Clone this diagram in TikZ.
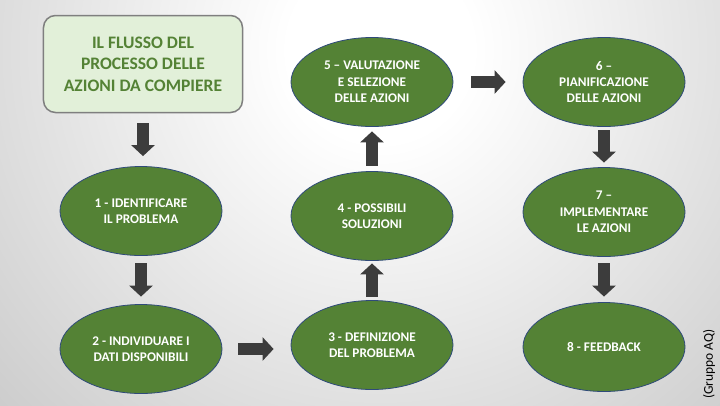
\documentclass[tikz,border=0pt]{standalone}
\usepackage{fontspec}
\setmainfont{Carlito}
\usetikzlibrary{shapes.geometric,arrows.meta}
\definecolor{ellgreen}{HTML}{548235}
\definecolor{ellborder}{HTML}{2F4A7A}
\definecolor{titlefill}{HTML}{E2F0D9}
\definecolor{titletext}{HTML}{548235}
\definecolor{titleborder}{HTML}{7F7F7F}
\definecolor{arrowgray}{HTML}{3C3C3C}
\definecolor{bgedge}{HTML}{9E9E9E}
\pgfdeclareradialshading{bgshade}{\pgfpoint{0bp}{0bp}}{color(0bp)=(white);color(5bp)=(white);color(50bp)=(bgedge)}
\tikzset{
  ell/.style={ellipse, draw=ellborder, line width=0.8bp, fill=ellgreen,
    minimum width=162bp, minimum height=89bp, inner sep=0pt, text=white,
    font=\bfseries\fontsize{13.3}{16.5}\selectfont, align=center},
  titlebox/.style={rectangle, rounded corners=12bp, draw=titleborder, line width=1.5bp,
    fill=titlefill, minimum width=199bp, minimum height=97bp, text=titletext,
    font=\bfseries\fontsize{17.6}{21.5}\selectfont, align=center},
  blk/.style={draw=arrowgray, line width=12bp, -{Triangle[width=23bp,length=11bp]}}
}
\begin{document}
\begin{tikzpicture}[x=1bp,y=-1bp]
\useasboundingbox (0,0) rectangle (720,405);
\begin{scope}
  \clip (0,0) rectangle (720,405);
  \shade[shading=bgshade] (-80,-410) rectangle (840,510);
\end{scope}
\node[titlebox] (title) at (143,64) {IL FLUSSO DEL\\PROCESSO DELLE\\AZIONI DA COMPIERE};
\node[ell] (e1) at (141,211) {1 - IDENTIFICARE\\IL PROBLEMA};
\node[ell] (e2) at (141,349) {2 - INDIVIDUARE I\\DATI DISPONIBILI};
\node[ell] (e3) at (372,345) {3 - DEFINIZIONE\\DEL PROBLEMA};
\node[ell] (e4) at (372,216) {4 - POSSIBILI\\SOLUZIONI};
\node[ell] (e5) at (372,82) {5 – VALUTAZIONE\\E SELEZIONE\\DELLE AZIONI};
\node[ell] (e6) at (604,82) {6 –\\PIANIFICAZIONE\\DELLE AZIONI};
\node[ell] (e7) at (604,212) {7 –\\IMPLEMENTARE\\LE AZIONI};
\node[ell] (e8) at (604,347) {8 - FEEDBACK};
\node[rotate=90, font=\fontsize{13.5}{15}\selectfont] (credit) at (709,364) {(Gruppo AQ)};
\draw[blk, shorten <=10bp, shorten >=10bp] (title.south) -- (title.south |- e1.north);
\draw[blk, shorten <=7.5bp, shorten >=7.5bp] (e1) -- (e2);
\draw[blk, shorten <=16bp, shorten >=17bp] (e2.east) -- (e2.east -| e3.west);
\draw[blk, shorten <=3.5bp, shorten >=2.5bp] (e3) -- (e4);
\draw[blk, shorten <=5.5bp, shorten >=4.5bp] (e4) -- (e5);
\draw[blk, shorten <=18bp, shorten >=17bp] (e5) -- (e6);
\draw[blk, shorten <=3.5bp, shorten >=4.5bp] (e6) -- (e7);
\draw[blk, shorten <=6.5bp, shorten >=5.5bp] (e7) -- (e8);
\end{tikzpicture}
\end{document}
